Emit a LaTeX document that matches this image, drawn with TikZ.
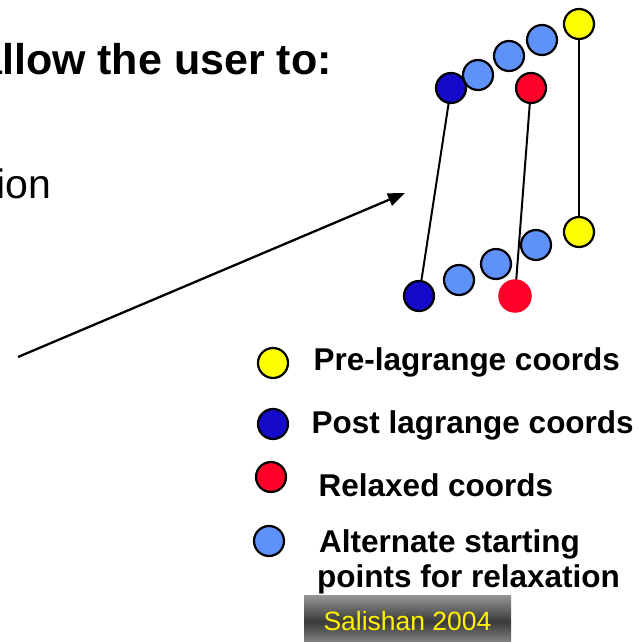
\documentclass[tikz,border=0pt]{standalone}
\usepackage{fontspec}
\setmainfont{Liberation Sans}
\usetikzlibrary{positioning, arrows.meta}
\usetikzlibrary{backgrounds}
\definecolor{prelagcol}{RGB}{255,255,0}
\definecolor{postlagcol}{RGB}{20,10,200}
\definecolor{relaxcol}{RGB}{255,0,40}
\definecolor{altcol}{RGB}{95,145,250}
\definecolor{shadeout}{RGB}{150,150,150}
\definecolor{shadein}{RGB}{58,58,58}

\begin{document}
\begin{tikzpicture}[x=1pt, y=-1pt,
			coord/.style={circle, draw, line width=2.2pt, minimum size=30pt, inner sep=0pt},
			prelag/.style={coord, fill=prelagcol},
			postlag/.style={coord, fill=postlagcol},
			relaxed/.style={coord, fill=relaxcol},
			altstart/.style={coord, fill=altcol},
			link/.style={line width=2pt},
			legtext/.style={anchor=base west, inner sep=0pt, font=\bfseries\fontsize{31.5}{36}\selectfont},
			>={Triangle[length=17pt,width=13pt]}
			]
			\useasboundingbox (0,0) rectangle (643,642);
			\clip (0,0) rectangle (643,642);
			
			\node[anchor=base west, inner sep=0pt, font=\bfseries\fontsize{43}{50}\selectfont] (heading) at (-22,75) {allow the user to:};
			\node[anchor=base west, inner sep=0pt, font=\fontsize{41}{48}\selectfont] (frag) at (-4,198) {ion};
			
			% before and after the lagrange step
			\node[prelag] (yt) at (579,24) {};
			\node[prelag] (yb) at (579,232) {};
			\node[postlag] (bt) at (451,88) {};
			\node[postlag] (bb) at (419,296) {};
			\node[relaxed] (rt) at (531,88) {};
			\node[relaxed, draw=none, minimum size=33.5pt] (rb) at (515,296) {};
			
			\node[altstart] (at3) at (478,75) {};
			\node[altstart] (at2) at (509,56) {};
			\node[altstart] (at1) at (542,40) {};
			\node[altstart] (ab3) at (459,280) {};
			\node[altstart] (ab2) at (496,264) {};
			\node[altstart] (ab1) at (536,245) {};
			
			\begin{scope}[on background layer]
			\draw[link] (yt.center) -- (yb.center);
			\draw[link] (bt.center) -- (bb.center);
			\draw[link] (rt.center) -- (rb.center);
			\end{scope}
			
			\coordinate (tail) at (18,357);
			\coordinate (tip) at (405,193);
			\draw[->, line width=2.3pt] (tail) -- (tip);
			
			% legend
			\node[prelag] (kpre) at (273,363) {};
			\node[postlag] (kpost) at (273,424) {};
			\node[relaxed] (krel) at (271,477) {};
			\node[altstart] (kalt) at (269,541) {};
			\node[legtext] (tpre) at (313.5,370) {Pre-lagrange coords};
			\node[legtext] (tpost) at (311.5,433) {Post lagrange coords};
			\node[legtext] (trel) at (318.5,496) {Relaxed coords};
			\node[legtext] (talt1) at (319,552) {Alternate starting};
			\node[legtext] (talt2) at (317,587) {points for relaxation};
			
			\node[inner sep=0pt, minimum width=207pt, minimum height=53pt, top color=shadeout, bottom color=shadeout, middle color=shadein, text=yellow, font=\fontsize{26.5}{30}\selectfont] (stamp) at (407.5,621.5) {Salishan 2004};
\end{tikzpicture}
\end{document}
